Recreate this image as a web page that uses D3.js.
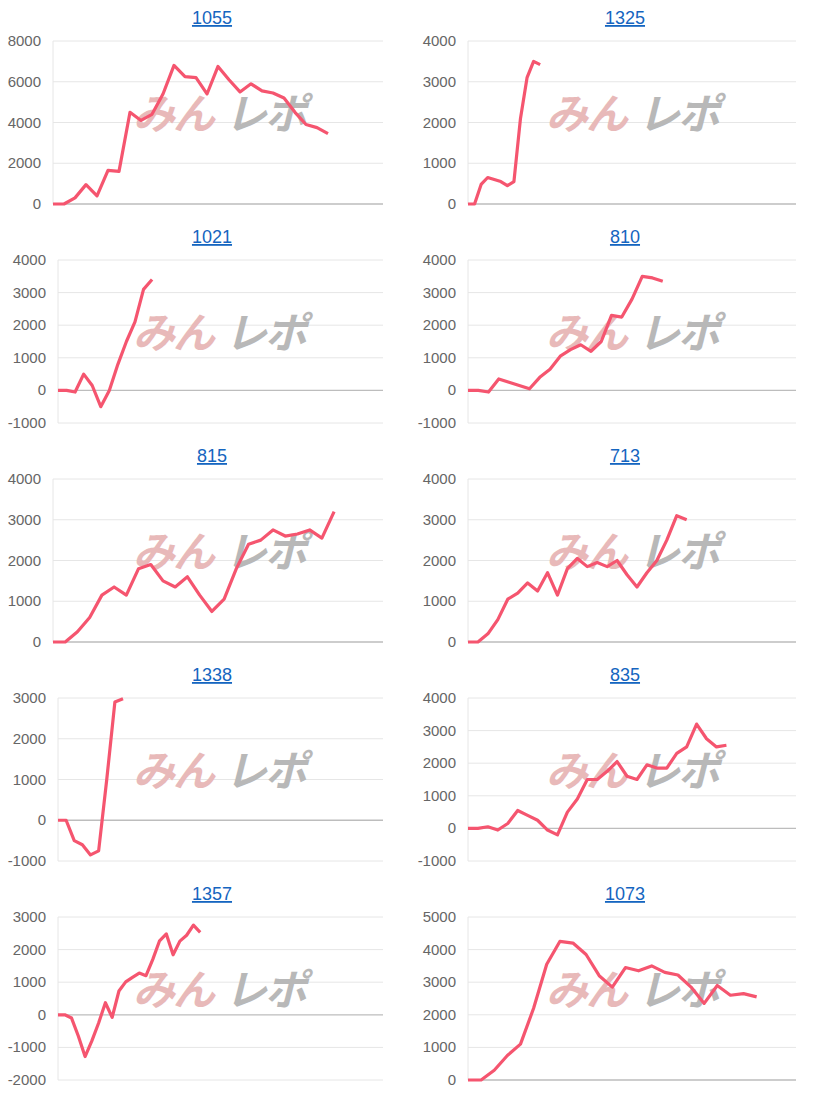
<!DOCTYPE html>
<html><head><meta charset="utf-8">
<script src="https://cdn.jsdelivr.net/npm/d3@7"></script>
<style>body{margin:0;background:#fff;font-family:Arial,"Liberation Sans",sans-serif}</style>
</head><body><svg id="c" width="824" height="1095"></svg>
<script>
const titles = ["1055","1325","1021","810","815","713","1338","835","1357","1073"];
const slots = [31,51,39,33,28,34,41,34,49,26];
const yDomains = [[0,8000],[0,4000],[-1000,4000],[-1000,4000],[0,4000],[0,4000],[-1000,3000],[-1000,4000],[-2000,3000],[0,5000]];
const s1055 = [0,0,300,950,400,1650,1600,4500,4100,4400,5400,6800,6250,6200,5400,6750,6100,5500,5900,5550,5450,5200,4500,3900,3750,3450];
const s1325 = [0,0,480,650,600,550,450,550,2100,3100,3500,3420];
const s1021 = [0,0,-50,500,150,-500,0,800,1500,2100,3100,3400];
const s810 = [0,0,-50,350,250,150,50,400,650,1050,1250,1400,1200,1500,2300,2250,2800,3500,3450,3350];
const s815 = [0,0,250,600,1150,1350,1150,1800,1900,1500,1350,1600,1150,750,1050,1800,2400,2500,2750,2600,2650,2750,2550,3200];
const s713 = [0,0,200,550,1050,1200,1450,1250,1700,1150,1800,2050,1850,1950,1850,2000,1650,1350,1700,2000,2500,3100,3000];
const s1338 = [0,0,-500,-600,-850,-750,1000,2900,2980];
const s835 = [0,0,50,-50,150,550,400,250,-50,-200,500,900,1500,1500,1750,2050,1600,1500,1950,1850,1850,2300,2500,3200,2750,2500,2550];
const s1357 = [0,0,-100,-650,-1280,-800,-250,370,-80,730,1010,1150,1280,1200,1700,2270,2480,1840,2260,2440,2750,2530];
const s1073 = [0,0,300,750,1100,2200,3550,4250,4200,3850,3200,2850,3450,3350,3500,3300,3220,2850,2350,2900,2600,2650,2550];
const series = [s1055,s1325,s1021,s810,s815,s713,s1338,s835,s1357,s1073];

const svg = d3.select("#c");
series.forEach((vals,i)=>{
  const col = i%2, row = Math.floor(i/2);
  const px = col===0 ? 0 : 413, py = row*219;
  const dom = yDomains[i];
  const neg = dom[0]<0 && col===0;
  const left = px + (neg?58:53) + (col===1?2:0), right = px+383;
  const top = py+41, bottom = py+204;
  const g = svg.append("g");
  const x = d3.scaleLinear().domain([0,slots[i]-1]).range([left,right]);
  const y = d3.scaleLinear().domain(dom).range([bottom,top]);
  const ticks = d3.range(dom[0],dom[1]+1,1000*(dom[1]-dom[0]>6000?2:1));
  g.selectAll("line.gr").data(ticks).join("line")
    .attr("x1",left).attr("x2",right).attr("y1",d=>y(d)).attr("y2",d=>y(d))
    .attr("stroke",d=>d===0?"#bdbdbd":"#e6e6e6").attr("stroke-width",d=>d===0?1.3:1);
  g.append("line").attr("x1",left).attr("x2",left).attr("y1",top).attr("y2",bottom).attr("stroke","#e6e6e6");
  g.selectAll("text.yl").data(ticks).join("text")
    .attr("x",left-12).attr("y",d=>y(d)+5).attr("text-anchor","end")
    .attr("font-size",15).attr("fill","#666").text(d=>d);
  g.append("text").attr("x",px+212).attr("y",py+24).attr("text-anchor","middle")
    .attr("font-size",18).attr("fill","#1565c0").attr("text-decoration","underline").text(titles[i]);
  const wm = g.append("text").attr("x",px+133).attr("y",top+88)
    .attr("font-size",42).attr("font-weight","bold").attr("font-style","italic")
    .attr("font-family","'Noto Sans CJK JP',sans-serif").attr("letter-spacing",-2);
  wm.append("tspan").attr("fill","#e8b9b9").text("みん");
  wm.append("tspan").attr("fill","#b8b8b8").attr("dx",12).text("レポ");
  g.append("path").datum(vals)
    .attr("d",d3.line().x((d,k)=>x(k)).y(d=>y(d)))
    .attr("fill","none").attr("stroke","#f5556f").attr("stroke-width",3.2).attr("stroke-linejoin","round");
});
</script></body></html>
